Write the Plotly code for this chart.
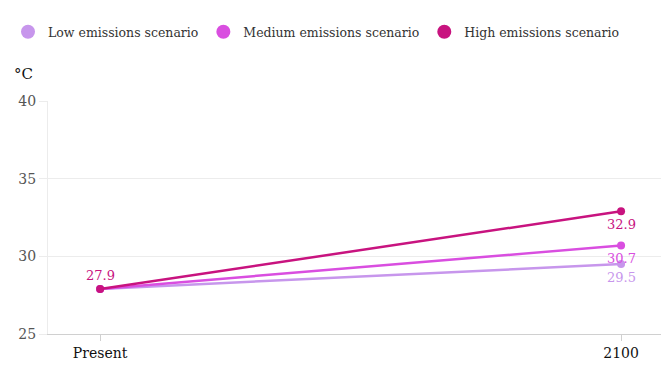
import plotly.graph_objects as go

categories = ["Present", "2100"]
low = [27.9, 29.5]
medium = [27.9, 30.7]
high = [27.9, 32.9]
series_names = ["Low emissions scenario", "Medium emissions scenario", "High emissions scenario"]
colors = ["#c796ec", "#d94ee0", "#c8137f"]
y_ticks = [25, 30, 35, 40]

font = "DejaVu Serif"
fig = go.Figure()
xs = [0, 1]
for name, vals, col in zip(series_names, [low, medium, high], colors):
    fig.add_trace(go.Scatter(
        x=xs, y=vals, name=name, mode="lines+markers", showlegend=False,
        line=dict(color=col, width=2.5), marker=dict(color=col, size=8),
    ))
for name, col in zip(series_names, colors):
    fig.add_trace(go.Scatter(x=[None], y=[None], name=name, mode="markers",
                             marker=dict(color=col, size=14), showlegend=True))

# value labels
fig.add_annotation(x=0, y=high[0], text=f"{high[0]}", showarrow=False, yshift=13,
                   font=dict(color=colors[2], size=13, family=font))
for vals, col in zip([low, medium, high], colors):
    fig.add_annotation(x=1, y=vals[1], text=f"{vals[1]}", showarrow=False, yshift=-13,
                       font=dict(color=col, size=13, family=font))

fig.add_annotation(text="°C", xref="paper", yref="paper", x=-36/621, y=1 + (93-66)/233,
                   xanchor="left", yanchor="middle", showarrow=False,
                   font=dict(size=15, color="#111", family=font))

fig.update_layout(
    width=661, height=366,
    margin=dict(l=40, r=0, t=93, b=40, autoexpand=False),
    plot_bgcolor="white", paper_bgcolor="white",
    font=dict(family=font, color="#333"),
    legend=dict(orientation="h", x=-0.01, xref="container", xanchor="left",
                y=0.975, yref="container", yanchor="top",
                font=dict(size=12.5, color="#333", family=font),
                itemwidth=30, tracegroupgap=0),
    xaxis=dict(range=[-0.1, 1.092], tickvals=xs, ticktext=categories,
               showgrid=False, zeroline=False, showline=True, linecolor="#d0d0d0",
               ticks="outside", ticklen=6, tickcolor="#d0d0d0",
               tickfont=dict(size=14, color="#111", family=font), fixedrange=True),
    yaxis=dict(range=[25, 40], tickvals=y_ticks, showgrid=True, gridcolor="#ececec",
               zeroline=False, showline=True, linecolor="#ececec",
               ticks="outside", ticklen=8, tickcolor="#ececec",
               tickfont=dict(size=14, color="#555", family=font)),
)
fig.write_html("out.html")
